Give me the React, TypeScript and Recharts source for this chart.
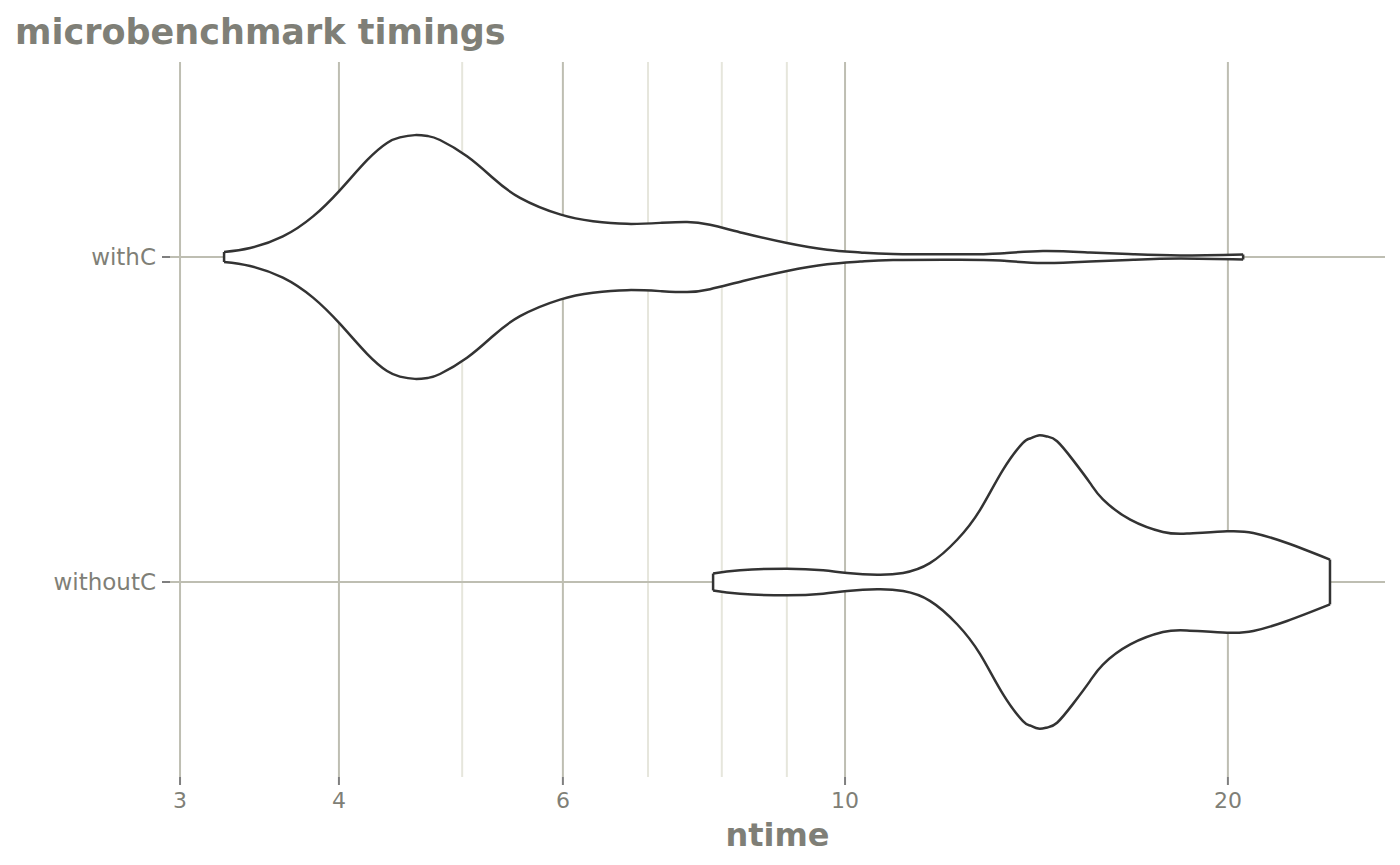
import { ComposedChart, Area, Line, XAxis, YAxis, CartesianGrid, Customized } from 'recharts';

// categories on the y axis (1 = withoutC, 2 = withC)
const categories = ['withoutC', 'withC'];
const majorTicks = [3, 4, 6, 10, 20];
const minorTicks = [5, 7, 8, 9];

// violin outline: ntime vs half width (in category units)
const withCTime = [3.249, 3.406, 3.614, 3.817, 4.008, 4.209, 4.364, 4.467, 4.59, 4.7, 4.803, 5.044, 5.287, 5.552, 5.969, 6.336, 6.738, 7.155, 7.513, 7.832, 8.313, 9.004, 9.681, 10.28, 10.91, 12.32, 13.24, 14.31, 15.58, 16.85, 18.34, 20.56];
const withCHalf = [0.0154, 0.0277, 0.0634, 0.125, 0.206, 0.298, 0.351, 0.368, 0.375, 0.372, 0.36, 0.31, 0.243, 0.182, 0.131, 0.11, 0.102, 0.105, 0.108, 0.099, 0.074, 0.043, 0.0225, 0.0142, 0.0092, 0.0083, 0.011, 0.0185, 0.014, 0.0083, 0.0046, 0.0077];

const withoutCTime = [7.875, 8.268, 9.004, 9.611, 10.04, 10.6, 11.11, 11.66, 12.25, 12.77, 13.31, 13.8, 13.98, 14.19, 14.42, 14.68, 15.11, 15.58, 15.95, 16.76, 17.78, 18.57, 19.97, 20.94, 22.26, 24.06];
const withoutCHalf = [0.026, 0.036, 0.041, 0.036, 0.028, 0.0225, 0.028, 0.058, 0.13, 0.222, 0.345, 0.428, 0.4415, 0.451, 0.4477, 0.433, 0.375, 0.305, 0.254, 0.192, 0.154, 0.149, 0.156, 0.151, 0.12, 0.069];

const font = '"DejaVu Sans", sans-serif';
const outline = '#333333';
const textGrey = '#7f7f77';

function violin(times: number[], halves: number[], center: number) {
  return times.map((t, i) => ({ t, range: [center - halves[i], center + halves[i]] }));
}

function cap(t: number, half: number, center: number) {
  return [
    { t, y: center - half },
    { t, y: center + half },
  ];
}

const withCData = violin(withCTime, withCHalf, 2);
const withoutCData = violin(withoutCTime, withoutCHalf, 1);

const caps = [
  cap(withCTime[0], withCHalf[0], 2),
  cap(withCTime[withCTime.length - 1], withCHalf[withCHalf.length - 1], 2),
  cap(withoutCTime[0], withoutCHalf[0], 1),
  cap(withoutCTime[withoutCTime.length - 1], withoutCHalf[withoutCHalf.length - 1], 1),
];

const Title = () => (
  <text x={15} y={44} fontFamily={font} fontSize={35} fontWeight="bold" fill={textGrey}>
    microbenchmark timings
  </text>
);

export default function App() {
  return (
    <div style={{ position: 'absolute', left: 0, top: 0, background: '#fff' }}>
      <ComposedChart width={1400} height={865} margin={{ top: 62, right: 15, left: 0, bottom: 0 }}>
        <CartesianGrid
          horizontal={false}
          verticalValues={minorTicks}
          stroke="#e6e6dc"
          strokeWidth={2}
        />
        <CartesianGrid
          verticalValues={majorTicks}
          horizontalValues={[1, 2]}
          stroke="#bebeb2"
          strokeWidth={2}
        />
        <XAxis
          dataKey="t"
          type="number"
          scale="log"
          domain={[2.946, 26.58]}
          allowDataOverflow
          ticks={majorTicks}
          height={88}
          axisLine={false}
          tickSize={8}
          tickMargin={7}
          tickLine={{ stroke: '#7f7f7f', strokeWidth: 2 }}
          tick={{ fontSize: 22, fill: textGrey, fontFamily: font }}
          label={{
            value: 'ntime',
            position: 'insideBottom',
            offset: 19,
            style: { fontSize: 32, fontWeight: 'bold', fill: textGrey, fontFamily: font },
          }}
        />
        <YAxis
          type="number"
          domain={[0.4, 2.6]}
          ticks={[1, 2]}
          width={170}
          axisLine={false}
          tickSize={8}
          tickMargin={6}
          tickLine={{ stroke: '#7f7f7f', strokeWidth: 2 }}
          tick={{ fontSize: 23, fill: textGrey, fontFamily: font }}
          tickFormatter={(v: number) => categories[v - 1]}
        />
        <Area
          data={withCData}
          dataKey="range"
          type="natural"
          stroke={outline}
          strokeWidth={2.5}
          fill="#ffffff"
          fillOpacity={1}
          dot={false}
          activeDot={false}
          isAnimationActive={false}
        />
        <Area
          data={withoutCData}
          dataKey="range"
          type="natural"
          stroke={outline}
          strokeWidth={2.5}
          fill="#ffffff"
          fillOpacity={1}
          dot={false}
          activeDot={false}
          isAnimationActive={false}
        />
        {caps.map((c, i) => (
          <Line
            key={i}
            data={c}
            dataKey="y"
            type="linear"
            stroke={outline}
            strokeWidth={2.5}
            dot={false}
            activeDot={false}
            isAnimationActive={false}
          />
        ))}
        <Customized component={Title} />
      </ComposedChart>
    </div>
  );
}
